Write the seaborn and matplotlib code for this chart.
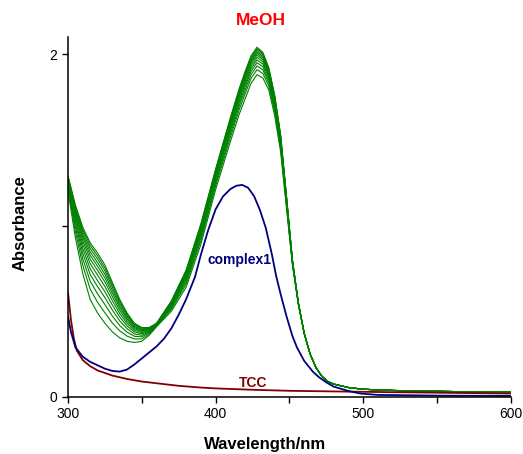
import numpy as np
import pandas as pd
import matplotlib
matplotlib.use("Agg")
import matplotlib.pyplot as plt
import seaborn as sns

# green scans (MeOH titration), wavelengths where the scans differ
green_wl = [300, 305, 310, 315, 320, 325, 330, 335, 340, 345, 350, 355, 360,
            370, 380, 390, 400, 410, 416, 420, 424, 428, 432, 436, 440, 444,
            448, 452, 456]
green_scans = [
    [1.290, 1.120, 0.990, 0.900, 0.840, 0.770, 0.670, 0.570, 0.490, 0.430, 0.405, 0.405, 0.430, 0.560, 0.740, 1.010, 1.330, 1.630, 1.800, 1.900, 1.990, 2.040, 2.010, 1.920, 1.760, 1.530, 1.170, 0.800, 0.550],
    [1.286, 1.111, 0.977, 0.884, 0.823, 0.753, 0.656, 0.559, 0.482, 0.424, 0.401, 0.403, 0.429, 0.557, 0.735, 1.004, 1.324, 1.623, 1.793, 1.892, 1.982, 2.032, 2.003, 1.914, 1.754, 1.525, 1.167, 0.799, 0.550],
    [1.281, 1.101, 0.963, 0.867, 0.805, 0.736, 0.641, 0.548, 0.474, 0.419, 0.397, 0.401, 0.428, 0.554, 0.730, 0.998, 1.318, 1.616, 1.785, 1.884, 1.974, 2.024, 1.995, 1.907, 1.748, 1.520, 1.163, 0.797, 0.549],
    [1.276, 1.090, 0.947, 0.847, 0.784, 0.716, 0.624, 0.534, 0.464, 0.412, 0.392, 0.398, 0.427, 0.550, 0.724, 0.991, 1.311, 1.608, 1.776, 1.874, 1.964, 2.014, 1.986, 1.899, 1.741, 1.514, 1.159, 0.795, 0.548],
    [1.270, 1.078, 0.931, 0.827, 0.763, 0.695, 0.606, 0.521, 0.454, 0.405, 0.387, 0.395, 0.426, 0.547, 0.718, 0.984, 1.304, 1.599, 1.767, 1.865, 1.955, 2.005, 1.977, 1.891, 1.734, 1.508, 1.155, 0.793, 0.548],
    [1.264, 1.065, 0.912, 0.804, 0.739, 0.671, 0.586, 0.505, 0.442, 0.398, 0.382, 0.392, 0.424, 0.543, 0.711, 0.975, 1.295, 1.589, 1.757, 1.854, 1.944, 1.994, 1.967, 1.882, 1.725, 1.501, 1.150, 0.791, 0.547],
    [1.257, 1.050, 0.890, 0.778, 0.711, 0.644, 0.563, 0.487, 0.429, 0.389, 0.375, 0.388, 0.423, 0.538, 0.703, 0.966, 1.286, 1.578, 1.745, 1.841, 1.931, 1.981, 1.955, 1.872, 1.716, 1.493, 1.144, 0.789, 0.546],
    [1.249, 1.033, 0.866, 0.748, 0.679, 0.614, 0.537, 0.467, 0.414, 0.379, 0.368, 0.384, 0.421, 0.532, 0.694, 0.955, 1.275, 1.566, 1.731, 1.826, 1.916, 1.966, 1.941, 1.860, 1.705, 1.484, 1.138, 0.786, 0.545],
    [1.240, 1.014, 0.839, 0.715, 0.644, 0.580, 0.508, 0.444, 0.398, 0.367, 0.360, 0.380, 0.419, 0.526, 0.684, 0.943, 1.263, 1.552, 1.716, 1.810, 1.900, 1.950, 1.926, 1.847, 1.693, 1.474, 1.131, 0.783, 0.544],
    [1.229, 0.991, 0.806, 0.676, 0.602, 0.539, 0.473, 0.417, 0.378, 0.354, 0.351, 0.374, 0.416, 0.519, 0.672, 0.928, 1.248, 1.535, 1.698, 1.791, 1.881, 1.931, 1.908, 1.832, 1.678, 1.462, 1.122, 0.780, 0.543],
    [1.216, 0.964, 0.769, 0.629, 0.553, 0.491, 0.432, 0.386, 0.355, 0.338, 0.339, 0.368, 0.414, 0.511, 0.658, 0.912, 1.232, 1.515, 1.677, 1.769, 1.859, 1.909, 1.887, 1.813, 1.662, 1.448, 1.113, 0.775, 0.542],
    [1.200, 0.930, 0.720, 0.570, 0.490, 0.430, 0.380, 0.345, 0.325, 0.318, 0.325, 0.360, 0.410, 0.500, 0.640, 0.890, 1.210, 1.490, 1.650, 1.740, 1.830, 1.880, 1.860, 1.790, 1.640, 1.430, 1.100, 0.770, 0.540],
]
# all scans overlap past 460 nm
green_tail_wl = [460, 464, 468, 472, 476, 480, 490, 500, 520, 550, 600]
green_tail = [0.370, 0.250, 0.170, 0.120, 0.090, 0.075, 0.055, 0.045, 0.038, 0.033, 0.027]

complex_wl = [300, 302, 305, 310, 315, 320, 325, 330, 335, 340, 345, 350, 355,
              360, 365, 370, 375, 380, 386, 390, 395, 400, 405, 410, 414, 418,
              422, 426, 430, 434, 438, 441, 444, 448, 452, 455, 460, 466, 470,
              475, 480, 490, 498, 510, 550, 600]
complex_abs = [0.470, 0.380, 0.290, 0.235, 0.205, 0.185, 0.165, 0.152, 0.148,
               0.160, 0.190, 0.225, 0.260, 0.295, 0.340, 0.400, 0.480, 0.570,
               0.700, 0.830, 0.975, 1.095, 1.170, 1.213, 1.232, 1.237, 1.220,
               1.172, 1.090, 0.985, 0.835, 0.705, 0.600, 0.470, 0.355, 0.290,
               0.210, 0.146, 0.115, 0.085, 0.060, 0.035, 0.020, 0.012, 0.008,
               0.006]

tcc_wl = [300, 302, 304, 306, 310, 315, 320, 330, 340, 350, 360, 375, 390,
          400, 425, 450, 500, 550, 600]
tcc_abs = [0.610, 0.450, 0.340, 0.270, 0.215, 0.180, 0.155, 0.125, 0.105,
           0.090, 0.080, 0.065, 0.055, 0.050, 0.042, 0.036, 0.030, 0.025, 0.020]

rows = []
for i, scan in enumerate(green_scans):
    for w, a in zip(green_wl + green_tail_wl, scan + green_tail):
        rows.append({"wavelength": w, "absorbance": a, "scan": i})
green_df = pd.DataFrame(rows)
complex_df = pd.DataFrame({"wavelength": complex_wl, "absorbance": complex_abs})
tcc_df = pd.DataFrame({"wavelength": tcc_wl, "absorbance": tcc_abs})

sns.set_style("ticks")
plt.rcParams["font.family"] = ["Liberation Sans", "DejaVu Sans"]

fig = plt.figure(figsize=(5.23, 4.54), dpi=100)
ax = fig.add_axes([0.130, 0.1256, 0.847, 0.793])

sns.lineplot(data=green_df, x="wavelength", y="absorbance", units="scan",
             estimator=None, color="#008000", lw=0.8, ax=ax)
sns.lineplot(data=tcc_df, x="wavelength", y="absorbance",
             color="#800000", lw=1.3, ax=ax)
sns.lineplot(data=complex_df, x="wavelength", y="absorbance",
             color="#000080", lw=1.3, ax=ax)

ax.set_xlim(300, 600)
ax.set_ylim(0, 2.1)
ax.set_xticks([300, 400, 500, 600])
ax.set_xticks([350, 450, 550], minor=True)
ax.set_yticks([0, 1, 2])
ax.set_yticklabels(["0", "", "2"])
ax.tick_params(axis="both", which="both", direction="out", length=4.5,
               width=1, labelsize=10, colors="black")
ax.tick_params(axis="both", which="major", pad=3)
for s in ["top", "right"]:
    ax.spines[s].set_visible(False)
for s in ["left", "bottom"]:
    ax.spines[s].set_linewidth(1.1)
    ax.spines[s].set_color("black")

ax.set_xlabel("Wavelength/nm", fontsize=12, fontweight="bold", color="black")
ax.set_ylabel("Absorbance", fontsize=12, fontweight="bold", color="black")
ax.xaxis.set_label_coords(0.445, -0.112)
ax.yaxis.set_label_coords(-0.092, 0.483)

ax.text(416, 0.80, "complex1", color="#000080", fontsize=10,
        fontweight="bold", ha="center", va="center")
ax.text(425.6, 0.083, "TCC", color="#800000", fontsize=10,
        fontweight="bold", ha="center", va="center")
fig.text(0.498, 0.954, "MeOH", color="red", fontsize=12.5,
         fontweight="bold", ha="center", va="center")

fig.savefig("out.png", dpi=100)
